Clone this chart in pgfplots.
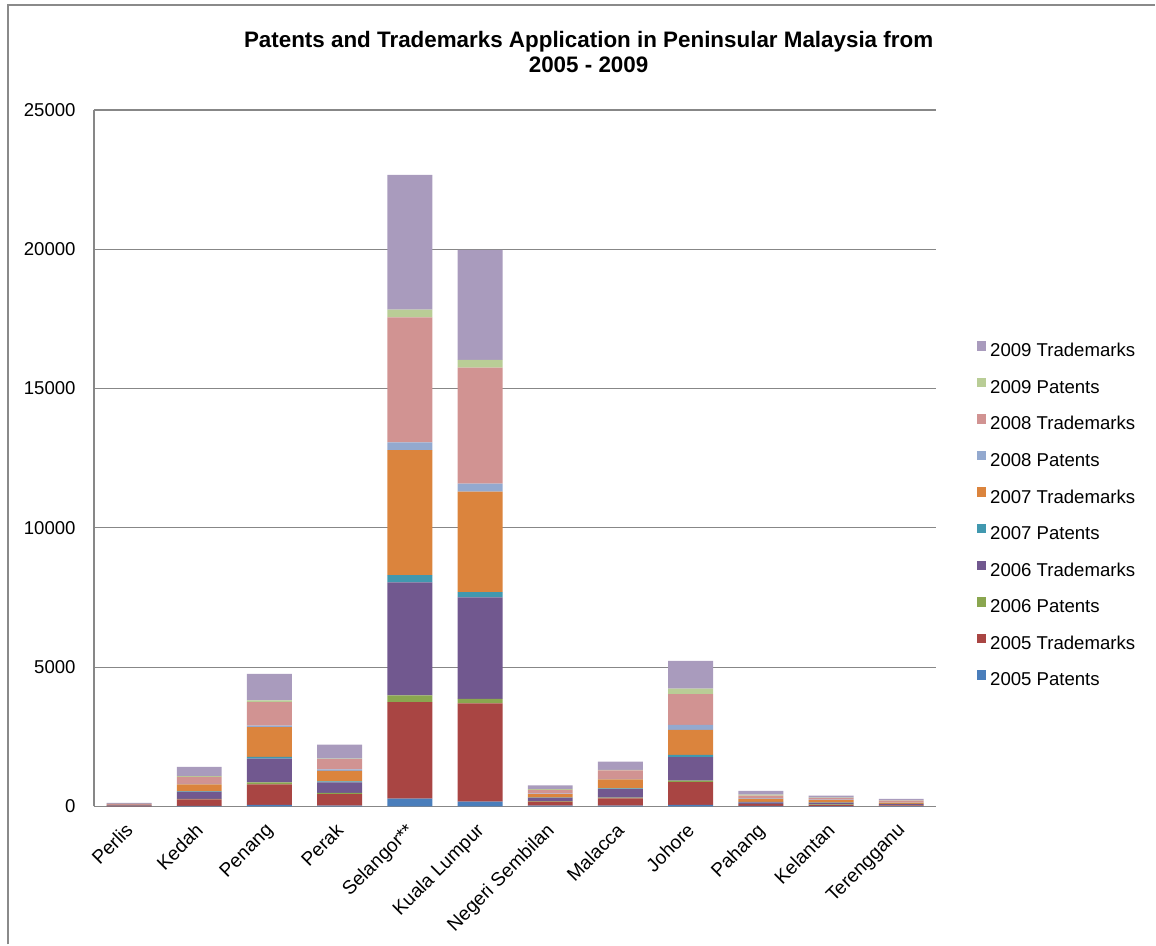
\documentclass[border=0pt]{standalone}
\usepackage{fontspec}
\setmainfont{Liberation Sans}
\usepackage{pgfplots}
\pgfplotsset{compat=1.18}
\usepackage{pgfplotstable}
\definecolor{cPa}{HTML}{4A7EBB}
\definecolor{cTa}{HTML}{A94543}
\definecolor{cPb}{HTML}{8AA64F}
\definecolor{cTb}{HTML}{71588F}
\definecolor{cPc}{HTML}{4198AF}
\definecolor{cTc}{HTML}{DB843D}
\definecolor{cPd}{HTML}{93A9CF}
\definecolor{cTd}{HTML}{D19392}
\definecolor{cPe}{HTML}{B9CD96}
\definecolor{cTe}{HTML}{A99BBD}
\definecolor{gridgray}{HTML}{878787}
\definecolor{framegray}{HTML}{8A8A8A}
\pgfplotstableread{
x  p05  t05  p06  t06  p07  t07  p08  t08  p09  t09
0  2    15   2    15   2    20   2    35   2    35
1  20   230  20   250  20   250  20   250  30   330
2  60   730  70   860  60   1070 50   840  70   950
3  30   410  50   370  40   380  50   370  20   500
4  280  3460 250  4050 260  4490 280  4480 280  4840
5  170  3530 160  3640 190  3610 290  4160 280  3950
6  30   140  20   120  10   120  20   130  30   140
7  30   260  30   300  30   320  20   300  20   300
8  60   810  60   840  80   900  180  1100 200  990
9  20   60   10   60   10   110  20   100  30   140
10 10   50   10   60   10   90   10   60   20   70
11 10   30   10   30   10   50   10   60   10   50
}\datatable
\begin{document}
\begin{tikzpicture}[x=1pt,y=1pt]
\path (0,0) rectangle (578,472.5);
\draw[framegray, line width=0.8pt] (4,0) -- (4,470) -- (578,470);
\node[font=\fontsize{11.2}{12.5}\selectfont\bfseries, align=center] at (294.5,446.5) {Patents and Trademarks Application in Peninsular Malaysia from\\2005 - 2009};
\begin{axis}[
  at={(47pt,69pt)}, anchor=south west,
  scale only axis, width=421.5pt, height=348.5pt,
  ybar stacked, bar width=22.5pt,
  xmin=-0.5, xmax=11.5, ymin=0, ymax=25000,
  xtick={0,...,11},
  xticklabels={Perlis,Kedah,Penang,Perak,Selangor**,Kuala Lumpur,Negeri Sembilan,Malacca,Johore,Pahang,Kelantan,Terengganu},
  ytick={0,5000,10000,15000,20000,25000},
  scaled y ticks=false,
  /pgf/number format/1000 sep={},
  /pgf/number format/assume math mode=true,
  ymajorgrids, grid style={gridgray, line width=0.6pt},
  axis x line*=bottom, axis y line*=left,
  axis line style={gridgray, line width=0.6pt},
  major tick length=0pt,
  tick label style={font=\fontsize{9.3}{11}\selectfont},
  yticklabel style={anchor=east, inner sep=0pt, xshift=-9pt},
  xticklabel style={xshift=-2.5pt, yshift=-7.5pt, rotate=45, anchor=north east, inner sep=0pt, font=\fontsize{9.6}{11}\selectfont},
  reverse legend,
  legend style={draw=none, fill=none, at={(1.0475,0.6686)}, anchor=north west,
    inner sep=0pt, row sep=8.5pt, column sep=2pt,
    font=\fontsize{9.3}{11}\selectfont,
    nodes={inner sep=0pt, text height=7pt, text depth=2pt}},
  legend cell align=left,
  legend image code/.code={\fill[#1] (0pt,0.6pt) rectangle (4.7pt,5.3pt);},
]
\addplot[fill=cPa, draw=none] table[x=x,y=p05]{\datatable}; \addlegendentry{2005 Patents}
\addplot[fill=cTa, draw=none] table[x=x,y=t05]{\datatable}; \addlegendentry{2005 Trademarks}
\addplot[fill=cPb, draw=none] table[x=x,y=p06]{\datatable}; \addlegendentry{2006 Patents}
\addplot[fill=cTb, draw=none] table[x=x,y=t06]{\datatable}; \addlegendentry{2006 Trademarks}
\addplot[fill=cPc, draw=none] table[x=x,y=p07]{\datatable}; \addlegendentry{2007 Patents}
\addplot[fill=cTc, draw=none] table[x=x,y=t07]{\datatable}; \addlegendentry{2007 Trademarks}
\addplot[fill=cPd, draw=none] table[x=x,y=p08]{\datatable}; \addlegendentry{2008 Patents}
\addplot[fill=cTd, draw=none] table[x=x,y=t08]{\datatable}; \addlegendentry{2008 Trademarks}
\addplot[fill=cPe, draw=none] table[x=x,y=p09]{\datatable}; \addlegendentry{2009 Patents}
\addplot[fill=cTe, draw=none] table[x=x,y=t09]{\datatable}; \addlegendentry{2009 Trademarks}
\end{axis}
\end{tikzpicture}
\end{document}
